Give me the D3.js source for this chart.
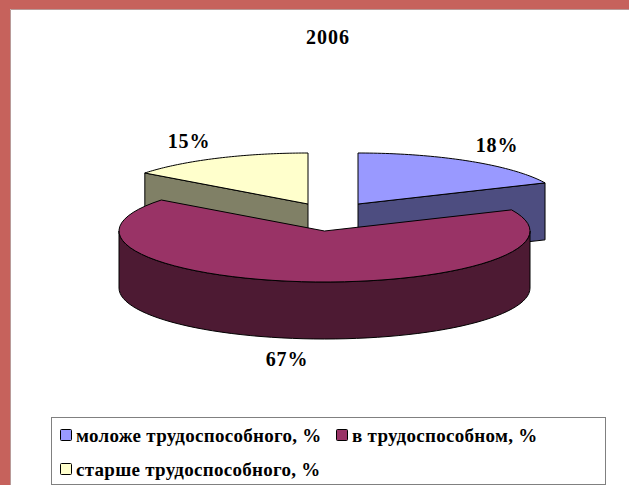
<!DOCTYPE html>
<html>
<head>
<meta charset="utf-8">
<script src="https://cdn.jsdelivr.net/npm/d3@7"></script>
<style>
  html, body { margin: 0; padding: 0; background: #fff; }
  text { font-family: "Liberation Serif", serif; font-weight: bold; fill: #000; }
</style>
</head>
<body>
<div id="chart"></div>
<script>
const title = "2006";
const categories = ["моложе трудоспособного, %", "в трудоспособном, %", "старше трудоспособного, %"];
// unrounded shares estimated from the slice edges, the printed labels round them
const values = [18.2, 67.2, 14.6];
const labels = ["18%", "67%", "15%"];
const topColors = ["#9999ff", "#993366", "#ffffcc"];
const sideColors = ["#4d4d80", "#4d1a33", "#808066"];

const width = 629, height = 485;
const rx = 205.5, ry = 51, depth = 57;

// exploded slice centres and label spots, same order as values
const centres = [[358, 204], [324.5, 231], [308, 204]];
const labelPos = [[497, 151.5], [287, 366], [189, 148]];

const svg = d3.select("#chart").append("svg")
  .attr("width", width)
  .attr("height", height)
  .style("display", "block");

// slide frame
svg.append("rect").attr("width", width).attr("height", 9).attr("fill", "#c6625c");
svg.append("rect").attr("width", 10).attr("height", height).attr("fill", "#c6625c");
svg.append("path").attr("d", `M10.5,${height}V9.5H${width}`)
  .attr("fill", "none").attr("stroke", "#b99a98");

svg.append("text")
  .attr("x", 328).attr("y", 44)
  .attr("text-anchor", "middle")
  .attr("font-size", "20px")
  .attr("letter-spacing", "1px")
  .text(title);

const pie = d3.pie().sort(null);
const slices = pie(values);

// ellipse point for a pie angle (0 = 12 o'clock, clockwise)
const px = (c, a) => c[0] + rx * Math.sin(a);
const py = (c, a) => c[1] - ry * Math.cos(a);
const line = d3.line();

function rimAngles(a0, a1) {
  return d3.range(0, 61).map((i) => a0 + (a1 - a0) * i / 60);
}

function topPath(d, c) {
  const pts = rimAngles(d.startAngle, d.endAngle).map((a) => [px(c, a), py(c, a)]);
  return line([c, ...pts]) + "Z";
}

function cutFace(c, a) {
  return line([c, [px(c, a), py(c, a)], [px(c, a), py(c, a) + depth], [c[0], c[1] + depth]]) + "Z";
}

function frontWall(c, a0, a1) {
  const rim = rimAngles(a0, a1).map((a) => [px(c, a), py(c, a)]);
  const low = rim.map((p) => [p[0], p[1] + depth]).reverse();
  return line([...rim, ...low]) + "Z";
}

const pieG = svg.append("g")
  .attr("stroke", "#000")
  .attr("stroke-width", 1)
  .attr("stroke-linejoin", "round");

// back slices first, the big one sits in front of them
[2, 0, 1].forEach((i) => {
  const d = slices[i], c = centres[i];
  if (i === 0) {
    pieG.append("path").attr("d", cutFace(c, d.endAngle)).attr("fill", sideColors[i]);
  } else if (i === 2) {
    pieG.append("path").attr("d", cutFace(c, d.startAngle)).attr("fill", sideColors[i]);
  } else {
    pieG.append("path").attr("d", frontWall(c, Math.PI / 2, Math.PI * 1.5)).attr("fill", sideColors[i]);
  }
  pieG.append("path").attr("d", topPath(d, c)).attr("fill", topColors[i]);
});

svg.append("g").selectAll("text")
  .data(labels)
  .join("text")
  .attr("x", (d, i) => labelPos[i][0])
  .attr("y", (d, i) => labelPos[i][1])
  .attr("text-anchor", "middle")
  .attr("font-size", "20px")
  .attr("letter-spacing", "0.8px")
  .text((d) => d);

// legend
const legendPos = [[60, 442], [336, 442], [60, 476]];
svg.append("rect")
  .attr("x", 51.5).attr("y", 417.5)
  .attr("width", 554).attr("height", 67)
  .attr("fill", "#fff").attr("stroke", "#808080");

const legend = svg.append("g").selectAll("g")
  .data(categories)
  .join("g")
  .attr("transform", (d, i) => `translate(${legendPos[i][0]},${legendPos[i][1]})`);

legend.append("rect")
  .attr("x", 0.5).attr("y", -12.5)
  .attr("width", 11).attr("height", 11)
  .attr("rx", 1)
  .attr("fill", (d, i) => topColors[i])
  .attr("stroke", "#000");

legend.append("text")
  .attr("x", 16)
  .attr("y", 0)
  .attr("font-size", "19px")
  .attr("letter-spacing", "0.28px")
  .text((d) => d);
</script>
</body>
</html>
